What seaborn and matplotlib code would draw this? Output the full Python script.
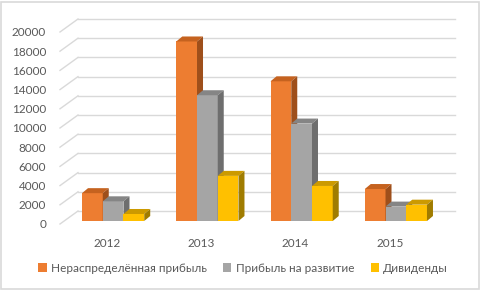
import numpy as np
import pandas as pd
import seaborn as sns
import matplotlib
import matplotlib.pyplot as plt
from matplotlib.patches import Polygon, Rectangle, Patch

matplotlib.use('Agg')

# data
years = ['2012', '2013', '2014', '2015']
series = ['Нераспределённая прибыль', 'Прибыль на развитие', 'Дивиденды']
retained = [2900, 18700, 14550, 3330]
development = [2050, 13100, 10150, 1500]
dividends = [730, 4700, 3650, 1700]

front_colors = ['#ED7D31', '#A5A5A5', '#FFC000']
top_colors = ['#C5621F', '#858585', '#CC9A00']
side_colors = ['#9E4F1B', '#6E6E6E', '#A07C00']
text_color = '#595959'
grid_color = '#D9D9D9'

df = pd.DataFrame({
    'year': years * 3,
    'series': [s for s in series for _ in years],
    'value': retained + development + dividends,
})

W, H, DPI = 482, 290, 100
fig = plt.figure(figsize=(W / DPI, H / DPI), dpi=DPI)
plt.rcParams['font.family'] = ['Lato', 'DejaVu Sans']

# axes = front plane of the 3d box
ax_left, ax_right, ax_bottom, ax_top = 60, 437, 224, 32
ax = fig.add_axes([ax_left / W, 1 - ax_bottom / H,
                   (ax_right - ax_left) / W, (ax_bottom - ax_top) / H])

px_x = 4.0 / (ax_right - ax_left)       # data x units per pixel
px_y = 20000.0 / (ax_bottom - ax_top)   # data y units per pixel

sns.barplot(data=df, x='year', y='value', hue='series', palette=front_colors,
            width=0.66, saturation=1, dodge=True, legend=False, ax=ax,
            linewidth=0, zorder=3)
ax.set_xlim(-0.5, 3.5)
ax.set_ylim(0, 20000)

# back wall gridlines with diagonal side edges
back_dx, back_dy = 18 * px_x, 13 * px_y
for v in range(0, 20001, 2000):
    ax.plot([-0.5, -0.5 + back_dx], [v, v + back_dy], color=grid_color,
            lw=1, clip_on=False, zorder=1)
    ax.plot([-0.5 + back_dx, 3.5 + back_dx], [v + back_dy, v + back_dy],
            color=grid_color, lw=1, clip_on=False, zorder=1)

# fake 3d: shift bars back a bit and add top + side faces
shift_x, shift_y = 6 * px_x, 3 * px_y
depth_x, depth_y = 6 * px_x, 5 * px_y
front_rgb = [tuple(np.round(matplotlib.colors.to_rgb(c), 3)) for c in front_colors]
bars = sorted(ax.patches, key=lambda p: p.get_x())
for i, bar in enumerate(bars):
    ci = front_rgb.index(tuple(np.round(bar.get_facecolor()[:3], 3)))
    x0 = bar.get_x() + shift_x
    w = bar.get_width()
    h = bar.get_height()
    bar.set_x(x0)
    bar.set_y(shift_y)
    bar.set_zorder(3 + i)
    y0, y1 = shift_y, shift_y + h
    top = Polygon([(x0, y1), (x0 + w, y1), (x0 + w + depth_x, y1 + depth_y),
                   (x0 + depth_x, y1 + depth_y)], closed=True,
                  facecolor=top_colors[ci], edgecolor='none', zorder=3 + i + 0.5)
    side = Polygon([(x0 + w, y0), (x0 + w + depth_x, y0 + depth_y),
                    (x0 + w + depth_x, y1 + depth_y), (x0 + w, y1)], closed=True,
                   facecolor=side_colors[ci], edgecolor='none', zorder=3 + i + 0.5)
    ax.add_patch(top)
    ax.add_patch(side)

for s in ax.spines.values():
    s.set_visible(False)
ax.set_yticks(range(0, 20001, 2000))
ax.tick_params(axis='both', length=0, labelsize=8.5, colors=text_color)
ax.tick_params(axis='y', pad=10)
ax.tick_params(axis='x', pad=10)
ax.set_xlabel('')
ax.set_ylabel('')
ax.set_facecolor('none')

handles = [Patch(facecolor=c, edgecolor='none') for c in front_colors]
fig.legend(handles, series, loc='center', bbox_to_anchor=(243 / W, 1 - 268 / H),
           ncol=3, frameon=False, fontsize=8.5, labelcolor=text_color,
           handlelength=0.7, handleheight=0.7, handletextpad=0.35,
           columnspacing=1.4)

fig.patches.append(Rectangle((0.002, 0.004), 0.992, 0.99, transform=fig.transFigure,
                             fill=False, edgecolor=grid_color, lw=1.2))

fig.savefig('out.png', dpi=DPI)
plt.close(fig)
